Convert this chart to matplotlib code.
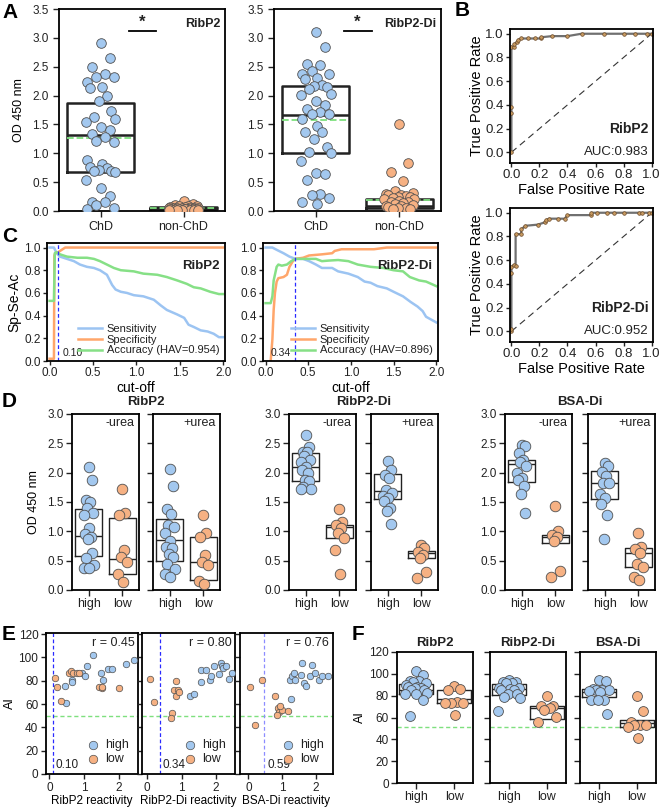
import numpy as np
import matplotlib.pyplot as plt
from matplotlib.lines import Line2D

plt.rcParams['font.family'] = ['Liberation Sans', 'DejaVu Sans']
plt.rcParams['axes.linewidth'] = 1.3
plt.rcParams['xtick.major.width'] = 1.0
plt.rcParams['ytick.major.width'] = 1.0
plt.rcParams['xtick.major.size'] = 3.5
plt.rcParams['ytick.major.size'] = 3.5
plt.rcParams['text.color'] = '#222222'
plt.rcParams['xtick.color'] = '#222222'
plt.rcParams['ytick.color'] = '#222222'

BLUE = '#a3c8ef'
ORANGE = '#f6b183'
EDGE = '#505050'
MEANC = '#7ee07e'
SENS_C = '#9cc4f2'
SPEC_C = '#ffa66b'
ACC_C = '#86e086'

# ---------------- data: panel A ----------------
groups_a = ['ChD', 'non-ChD']
a_ribp2_chd = [2.91, 2.65, 2.49, 2.37, 2.32, 2.32, 2.23, 2.14, 2.13, 2.00, 1.90, 1.74, 1.63,
               1.60, 1.54, 1.45, 1.41, 1.34, 1.28, 1.22, 1.19, 0.89, 0.82, 0.77, 0.74, 0.71,
               0.70, 0.69, 0.67, 0.53, 0.39, 0.26, 0.16, 0.16, 0.10, 0.06, 0.04]
a_ribp2_non = [0.18, 0.12, 0.10, 0.09, 0.08, 0.08, 0.07, 0.07, 0.06, 0.06, 0.06, 0.05, 0.05,
               0.05, 0.05, 0.04, 0.04, 0.04, 0.04, 0.03, 0.03, 0.03, 0.03, 0.02, 0.02, 0.02,
               0.02, 0.01, 0.01, 0.01]
a_ribp2di_chd = [3.10, 2.85, 2.55, 2.53, 2.43, 2.38, 2.38, 2.31, 2.29, 2.18, 2.16, 2.14, 2.12,
                 2.03, 2.01, 1.90, 1.83, 1.77, 1.71, 1.68, 1.68, 1.60, 1.48, 1.37, 1.37, 1.25,
                 1.11, 1.02, 1.00, 0.87, 0.66, 0.64, 0.54, 0.30, 0.27, 0.22, 0.15, 0.12]
a_ribp2di_non = [1.50, 0.83, 0.68, 0.52, 0.35, 0.32, 0.30, 0.28, 0.27, 0.26, 0.25, 0.24, 0.22,
                 0.21, 0.20, 0.18, 0.16, 0.15, 0.13, 0.12, 0.10, 0.09, 0.08, 0.07, 0.06, 0.05,
                 0.04, 0.03]
# box stats [ChD, non-ChD]
a1_q1, a1_med, a1_q3, a1_mean = [0.67, 0.03], [1.31, 0.05], [1.87, 0.07], [1.26, 0.06]
a2_q1, a2_med, a2_q3, a2_mean = [1.00, 0.06], [1.66, 0.09], [2.17, 0.21], [1.57, 0.19]

# ---------------- data: panel B (ROC) ----------------
roc1_fpr = [0, 0, 0, 0, 0.02, 0.02, 0.04, 0.05, 0.07, 0.12, 0.17, 0.21, 0.21, 0.29, 0.40,
            0.50, 0.66, 0.80, 0.88, 0.97, 1.0]
roc1_tpr = [0, 0.33, 0.38, 0.89, 0.89, 0.91, 0.93, 0.95, 0.96, 0.96, 0.96, 0.96, 0.97, 0.98,
            0.98, 1.0, 1.0, 1.0, 1.0, 1.0, 1.0]
roc2_fpr = [0, 0, 0, 0, 0.016, 0.03, 0.03, 0.07, 0.07, 0.10, 0.19, 0.24, 0.25, 0.27, 0.33,
            0.38, 0.40, 0.57, 0.57, 0.61, 0.68, 0.73, 0.80, 0.91, 0.93, 0.98, 1.0]
roc2_tpr = [0, 0.02, 0.49, 0.54, 0.56, 0.55, 0.82, 0.82, 0.86, 0.89, 0.90, 0.92, 0.94, 0.95,
            0.95, 0.95, 0.98, 0.98, 1.0, 1.0, 1.0, 1.0, 1.0, 1.0, 1.0, 1.0, 1.0]

# ---------------- data: panel C ----------------
c1_sens_x = [0, 0.05, 0.08, 0.12, 0.2, 0.28, 0.35, 0.43, 0.51, 0.58, 0.66, 0.72, 0.76, 0.82,
             0.89, 0.97, 1.08, 1.2, 1.28, 1.35, 1.47, 1.55, 1.6, 1.66, 1.74, 1.82, 1.89, 1.95, 2.0]
c1_sens_y = [1.0, 1.0, 0.95, 0.92, 0.90, 0.88, 0.85, 0.83, 0.82, 0.80, 0.76, 0.67, 0.63, 0.61,
             0.60, 0.58, 0.57, 0.54, 0.49, 0.45, 0.41, 0.38, 0.32, 0.30, 0.27, 0.26, 0.24, 0.21, 0.21]
c1_spec_x = [0, 0.05, 0.055, 0.065, 0.1, 0.14, 0.18, 2.0]
c1_spec_y = [0.02, 0.02, 0.93, 0.95, 0.96, 0.98, 1.0, 1.0]
c1_acc_x = [0, 0.05, 0.06, 0.08, 0.12, 0.2, 0.32, 0.43, 0.51, 0.58, 0.66, 0.74, 0.82, 0.97,
            1.08, 1.24, 1.35, 1.47, 1.58, 1.66, 1.74, 1.85, 1.95, 2.0]
c1_acc_y = [0.53, 0.53, 0.95, 0.96, 0.94, 0.92, 0.91, 0.91, 0.90, 0.88, 0.85, 0.82, 0.80, 0.79,
            0.77, 0.76, 0.74, 0.71, 0.68, 0.65, 0.64, 0.61, 0.59, 0.59]
c2_sens_x = [0, 0.08, 0.13, 0.21, 0.28, 0.35, 0.44, 0.51, 0.59, 0.66, 0.78, 0.85, 0.97, 1.08,
             1.16, 1.23, 1.31, 1.42, 1.50, 1.61, 1.70, 1.78, 1.84, 1.88, 2.0]
c2_sens_y = [1.0, 1.0, 0.98, 0.95, 0.92, 0.90, 0.90, 0.88, 0.85, 0.82, 0.82, 0.79, 0.77, 0.74,
             0.70, 0.69, 0.66, 0.64, 0.61, 0.57, 0.52, 0.48, 0.44, 0.39, 0.34]
c2_spec_x = [0.06, 0.08, 0.095, 0.11, 0.13, 0.15, 0.21, 0.25, 0.28, 0.32, 0.35, 0.44, 0.51,
             0.66, 0.78, 0.81, 0.89, 1.27, 1.42, 2.0]
c2_spec_y = [0.0, 0.19, 0.45, 0.60, 0.70, 0.73, 0.74, 0.76, 0.83, 0.88, 0.90, 0.91, 0.93,
             0.94, 0.95, 0.97, 0.985, 0.985, 1.0, 1.0]
c2_acc_x = [0, 0.06, 0.08, 0.095, 0.13, 0.15, 0.19, 0.25, 0.30, 0.35, 0.44, 0.59, 0.66, 0.74,
            0.85, 0.97, 1.08, 1.23, 1.38, 1.50, 1.61, 1.69, 1.80, 1.88, 2.0]
c2_acc_y = [0.51, 0.51, 0.57, 0.71, 0.83, 0.85, 0.84, 0.85, 0.88, 0.90, 0.90, 0.90, 0.88, 0.885,
            0.89, 0.88, 0.85, 0.83, 0.82, 0.80, 0.79, 0.74, 0.71, 0.70, 0.66]
c_cut = [0.10, 0.34]
c_hav = [0.954, 0.896]

# ---------------- data: panel D ----------------
d_names = ['RibP2', 'RibP2-Di', 'BSA-Di']
d_conds = ['-urea', '+urea']
d_high = [
    [[2.10, 1.88, 1.53, 1.50, 1.40, 1.32, 1.28, 1.06, 0.95, 0.90, 0.87, 0.63, 0.55, 0.42, 0.38, 0.37],
     [2.06, 1.77, 1.38, 1.30, 1.11, 1.07, 0.97, 0.84, 0.74, 0.71, 0.62, 0.56, 0.44, 0.36, 0.28, 0.23]],
    [[2.65, 2.44, 2.36, 2.36, 2.29, 2.22, 2.18, 2.09, 2.05, 2.00, 1.88, 1.85, 1.76, 1.73, 1.72],
     [2.20, 2.05, 1.96, 1.91, 1.70, 1.65, 1.61, 1.56, 1.51, 1.39, 1.34, 1.12]],
    [[2.48, 2.45, 2.34, 2.22, 2.18, 2.11, 1.99, 1.91, 1.88, 1.77, 1.64, 1.32],
     [2.17, 2.11, 2.01, 1.94, 1.83, 1.83, 1.63, 1.57, 1.46, 1.27, 0.87]],
]
d_low = [
    [[1.73, 1.31, 1.28, 0.68, 0.56, 0.47, 0.27, 0.14],
     [1.28, 0.97, 0.91, 0.60, 0.48, 0.43, 0.16, 0.11]],
    [[1.38, 1.16, 1.10, 1.05, 0.98, 0.88, 0.68, 0.27],
     [0.76, 0.71, 0.64, 0.60, 0.55, 0.30, 0.20]],
    [[1.43, 1.00, 0.94, 0.90, 0.83, 0.33, 0.22],
     [0.97, 0.74, 0.70, 0.63, 0.45, 0.40, 0.23, 0.17]],
]
# box stats as (q1, median, q3)
d_high_box = [[(0.58, 0.92, 1.38), (0.49, 0.85, 1.21)],
              [(1.85, 2.09, 2.33), (1.55, 1.69, 1.97)],
              [(1.84, 2.14, 2.21), (1.55, 1.83, 2.03)]]
d_low_box = [[(0.27, 0.53, 1.23), (0.17, 0.47, 0.91)],
             [(0.88, 1.08, 1.11), (0.55, 0.63, 0.66)],
             [(0.80, 0.91, 0.94), (0.40, 0.63, 0.71)]]

# ---------------- data: panel E ----------------
e_xlabels = ['RibP2 reactivity', 'RibP2-Di reactivity', 'BSA-Di reactivity']
e_r = ['r = 0.45', 'r = 0.80', 'r = 0.76']
e_cut_pos = [0.10, 0.36, 0.47]
e_cut_txt = ['0.10', '0.34', '0.59']
e_high_x = [
    [0.45, 0.48, 0.64, 0.64, 0.95, 1.03, 1.08, 1.24, 1.48, 1.55, 1.70, 1.79, 2.19, 2.43],
    [1.24, 1.37, 1.56, 1.56, 1.71, 1.83, 1.85, 1.93, 2.10, 2.15, 2.18, 2.20, 2.29, 2.39, 2.46],
    [1.27, 1.23, 1.29, 1.36, 1.39, 1.54, 1.59, 1.64, 1.71, 1.83, 1.88, 1.98, 2.08, 2.18, 2.35],
]
e_high_y = [
    [75.7, 60.9, 80.9, 78.6, 87.1, 84.3, 92.3, 102.3, 87.1, 80.9, 90.3, 90.3, 94.3, 98.0],
    [66.6, 68.9, 78.6, 88.9, 88.9, 80.9, 84.3, 92.3, 86.0, 95.1, 92.3, 90.9, 92.9, 81.7, 87.1],
    [64.3, 80.9, 84.3, 87.1, 80.9, 85.1, 95.1, 78.0, 75.7, 84.3, 93.7, 87.1, 80.9, 84.3, 84.3],
]
e_low_x = [
    [0.17, 0.22, 0.33, 0.55, 0.62, 0.67, 0.78, 0.84, 1.43, 1.50, 1.52, 2.00],
    [0.07, 0.20, 0.71, 0.68, 0.85, 0.78, 0.90, 0.83, 0.93],
    [0.05, 0.39, 0.78, 0.20, 0.88, 0.90, 0.85, 0.98, 1.18, 0.93],
]
e_low_y = [
    [82.3, 74.6, 62.9, 87.1, 88.6, 87.1, 86.6, 86.6, 74.3, 73.7, 74.6, 73.7],
    [81.7, 61.4, 52.3, 48.0, 80.0, 71.7, 71.7, 66.6, 70.0],
    [74.6, 80.3, 66.6, 42.3, 56.6, 52.9, 50.9, 55.1, 54.3, 58.0],
]

# ---------------- data: panel F ----------------
f_names = ['RibP2', 'RibP2-Di', 'BSA-Di']
f_high = [
    [103, 99, 93.7, 93.7, 92.2, 91.2, 89.7, 87.5, 87.5, 86.6, 86.6, 85.4, 85.4, 82.3, 81.3, 81.3, 76.1, 61.2],
    [94.7, 92.5, 92.5, 91.6, 91.6, 87.4, 87.4, 86.4, 85.5, 84.9, 81.2, 81.2, 78.8, 78.2, 66.0],
    [94.7, 93.4, 86.4, 85.5, 84.9, 84.9, 84.3, 83.4, 76.3, 76.3, 75.7, 63.5],
]
f_low = [
    [88.5, 86.4, 85.5, 74.2, 73.3, 73.3, 73.3, 62.0],
    [79.4, 70.2, 70.2, 69.0, 67.2, 60.5, 55.9],
    [79.4, 66.0, 55.9, 52.8, 52.8, 52.8, 51.3, 41.5],
]
f_high_box = [(81.3, 85.4, 90.6), (80.3, 86.4, 91.0), (78.8, 83.4, 86.4)]
f_low_box = [(73.3, 77.0, 85.5), (58.9, 69.0, 70.2), (51.3, 55.0, 58.0)]
f_cut = 51


def offsets(n, width):
    # deterministic side-to-side spread of overlapping points
    pattern = [0.0, 0.55, -0.5, 0.25, -0.25, 0.8, -0.8, 0.1, -0.65, 0.4, -0.1, 0.65, -0.4, 0.9, -0.9]
    return np.array([pattern[i % len(pattern)] * width for i in range(n)])


def swarm(ax, pos, vals, color, width, s, z=3):
    vals = np.array(sorted(vals, reverse=True))
    ax.scatter(pos + offsets(len(vals), width), vals, s=s, c=color, edgecolors=EDGE,
               linewidths=0.6, zorder=z)


def box(ax, pos, q1, med, q3, width, lw, mean=None):
    st = [{'med': med, 'q1': q1, 'q3': q3, 'whislo': q1, 'whishi': q3, 'mean': mean}]
    ax.bxp(st, positions=[pos], widths=width, showcaps=False, showfliers=False,
           showmeans=mean is not None, meanline=True, manage_ticks=False,
           boxprops=dict(color='#222222', lw=lw), medianprops=dict(color='#222222', lw=lw),
           whiskerprops=dict(lw=0), meanprops=dict(color=MEANC, ls='--', lw=1.3), zorder=2)


def fig_ax(x0, y0, x1, y1):
    W, H = 661.0, 810.0
    return fig.add_axes([x0 / W, 1 - y1 / H, (x1 - x0) / W, (y1 - y0) / H])


fig = plt.figure(figsize=(6.61, 8.10), dpi=100)

# ---------------- Panel A ----------------
a_sets = [(a_ribp2_chd, a_ribp2_non, a1_q1, a1_med, a1_q3, a1_mean, 'RibP2', (59, 225)),
          (a_ribp2di_chd, a_ribp2di_non, a2_q1, a2_med, a2_q3, a2_mean, 'RibP2-Di', (274, 441))]
for k, (chd, non, q1, med, q3, mn, name, (xl, xr)) in enumerate(a_sets):
    ax = fig_ax(xl, 9, xr, 211)
    for i in range(2):
        box(ax, i, q1[i], med[i], q3[i], 0.8, 1.8, mean=mn[i])
    swarm(ax, 0, chd, BLUE, 0.2, 48)
    swarm(ax, 1, non, ORANGE, 0.2, 48)
    ax.set_xlim(-0.5, 1.5)
    ax.set_ylim(0, 3.5)
    ax.set_yticks(np.arange(0, 3.51, 0.5))
    ax.set_yticklabels(['%.1f' % v for v in np.arange(0, 3.51, 0.5)], fontsize=8.5)
    ax.set_xticks([0, 1])
    ax.set_xticklabels(groups_a, fontsize=9)
    ax.tick_params(direction='out', length=4)
    ax.plot([0.34, 0.67], [3.12, 3.12], color='k', lw=1.3)
    ax.text(0.5, 3.14, '*', ha='center', va='bottom', fontsize=12, fontweight='bold')
    ax.text(0.97, 0.955, name, transform=ax.transAxes, ha='right', va='top',
            fontsize=9, fontweight='bold')
    if k == 0:
        ax.set_ylabel('OD 450 nm', fontsize=9, labelpad=5)

# ---------------- Panel B ----------------
for (fpr, tpr, name, auc, (y0, y1)) in [(roc1_fpr, roc1_tpr, 'RibP2', 'AUC:0.983', (29, 163)),
                                        (roc2_fpr, roc2_tpr, 'RibP2-Di', 'AUC:0.952', (208, 342))]:
    ax = fig_ax(510, y0, 653, y1)
    ax.plot([0, 1], [0, 1], color='#333333', ls=(0, (6, 4)), lw=0.8)
    ax.plot(fpr, tpr, color='#707070', lw=1.6, marker='o', ms=2.6, mfc='#c89a60',
            mec='#6a4a2a', mew=0.5)
    ax.set_xlim(-0.01, 1.01)
    ax.set_ylim(-0.09, 1.04)
    ticks = np.arange(0, 1.01, 0.2)
    ax.set_xticks(ticks)
    ax.set_yticks(ticks)
    ax.set_xticklabels(['%.1f' % v for v in ticks], fontsize=9.5)
    ax.set_yticklabels(['%.1f' % v for v in ticks], fontsize=9.5)
    ax.tick_params(direction='out', length=3, pad=1.5)
    ax.set_xlabel('False Positive Rate', fontsize=10.5, labelpad=1)
    ax.set_ylabel('True Positive Rate', fontsize=10.5, labelpad=1)
    ax.text(0.97, 0.2, name, transform=ax.transAxes, ha='right', va='bottom',
            fontsize=10, fontweight='bold')
    ax.text(0.97, 0.04, auc, transform=ax.transAxes, ha='right', va='bottom', fontsize=9.5)

# ---------------- Panel C ----------------
c_sets = [(c1_sens_x, c1_sens_y, c1_spec_x, c1_spec_y, c1_acc_x, c1_acc_y, 'RibP2', (47, 225)),
          (c2_sens_x, c2_sens_y, c2_spec_x, c2_spec_y, c2_acc_x, c2_acc_y, 'RibP2-Di', (263, 438))]
for k, (sx, sy, px, py, acx, acy, name, (xl, xr)) in enumerate(c_sets):
    ax = fig_ax(xl, 243, xr, 361)
    ax.plot(sx, sy, color=SENS_C, lw=1.8, label='Sensitivity')
    ax.plot(px, py, color=SPEC_C, lw=1.8, label='Specificity')
    ax.plot(acx, acy, color=ACC_C, lw=1.8, label='Accuracy (HAV=%.3f)' % c_hav[k])
    ax.axvline(c_cut[k], color='#2a2aff', ls=(0, (3, 2)), lw=0.9)
    if k == 0:
        ax.annotate('%.2f' % c_cut[k], (c_cut[k], 0.01), xytext=(3, 1), textcoords='offset points',
                    ha='left', va='bottom', fontsize=7.5)
    else:
        ax.annotate('%.2f' % c_cut[k], (c_cut[k], 0.01), xytext=(-3, 1), textcoords='offset points',
                    ha='right', va='bottom', fontsize=7.5)
    ax.set_xlim(-0.03, 2.02)
    ax.set_ylim(0, 1.04)
    ax.set_xticks(np.arange(0, 2.01, 0.5))
    ax.set_xticklabels(['%.1f' % v for v in np.arange(0, 2.01, 0.5)], fontsize=8.5)
    ax.set_yticks(np.arange(0, 1.01, 0.2))
    ax.set_yticklabels(['%.1f' % v for v in np.arange(0, 1.01, 0.2)], fontsize=8.5)
    ax.tick_params(direction='out', length=3, pad=1.5)
    ax.set_xlabel('cut-off', fontsize=10, labelpad=1)
    if k == 0:
        ax.set_ylabel('Sp-Se-Ac', fontsize=10, labelpad=2)
    ax.text(0.97, 0.86, name, transform=ax.transAxes, ha='right', va='top',
            fontsize=9.5, fontweight='bold')
    ax.legend(loc='lower right', frameon=False, fontsize=8, handlelength=2.2,
              handletextpad=0.4, labelspacing=0.05, borderaxespad=0.1)

# ---------------- Panel D ----------------
d_x = [(72, 139, 153, 220), (289, 356, 371, 438), (505, 572, 588, 655)]
for g in range(3):
    xs = d_x[g]
    for c in range(2):
        ax = fig_ax(xs[2 * c], 414, xs[2 * c + 1], 590)
        hq = d_high_box[g][c]
        lq = d_low_box[g][c]
        box(ax, 0, hq[0], hq[1], hq[2], 0.8, 1.0)
        box(ax, 1, lq[0], lq[1], lq[2], 0.8, 1.0)
        swarm(ax, 0, d_high[g][c], BLUE, 0.17, 58)
        swarm(ax, 1, d_low[g][c], ORANGE, 0.17, 58)
        ax.set_xlim(-0.5, 1.5)
        ax.set_ylim(0, 3.0)
        ax.set_yticks(np.arange(0, 3.01, 0.5))
        ax.set_xticks([0, 1])
        ax.set_xticklabels(['high', 'low'], fontsize=9)
        ax.tick_params(direction='out', length=4, pad=2)
        if c == 0:
            ax.set_yticklabels(['%.1f' % v for v in np.arange(0, 3.01, 0.5)], fontsize=8.5)
        else:
            ax.set_yticklabels([])
        ax.text(0.93, 0.985, d_conds[c], transform=ax.transAxes, ha='right', va='top', fontsize=9)
        if g == 0 and c == 0:
            ax.set_ylabel('OD 450 nm', fontsize=9, labelpad=5)
    fig.text((xs[0] + xs[3]) / 2 / 661.0, 1 - 402 / 810.0, d_names[g], ha='center', va='center',
             fontsize=9.5, fontweight='bold')

# ---------------- Panel E ----------------
e_x = [(46, 138), (142, 235), (240, 333)]
e_xlim = [(-0.1, 2.55), (-0.15, 2.55), (-0.25, 2.5)]
e_line_c = ['#2a2aff', '#2a2aff', '#8c8cff']
for k in range(3):
    ax = fig_ax(e_x[k][0], 633, e_x[k][1], 774)
    ax.axhline(50, color=MEANC, ls=(0, (3, 2)), lw=1.0, zorder=1)
    ax.axvline(e_cut_pos[k], color=e_line_c[k], ls=(0, (3, 2)), lw=0.9, zorder=1)
    ax.scatter(e_high_x[k], e_high_y[k], s=22, c=BLUE, edgecolors=EDGE, linewidths=0.5,
               zorder=3, label='high')
    ax.scatter(e_low_x[k], e_low_y[k], s=22, c=ORANGE, edgecolors=EDGE, linewidths=0.5,
               zorder=3, label='low')
    ax.set_xlim(*e_xlim[k])
    ax.set_ylim(0, 121)
    ax.set_yticks(np.arange(0, 121, 20))
    ax.set_xticks([0, 1, 2])
    ax.set_xticklabels(['0', '1', '2'], fontsize=8.5)
    ax.tick_params(direction='out', length=3.5, pad=2)
    if k == 0:
        ax.set_yticklabels([str(v) for v in range(0, 121, 20)], fontsize=8.5)
        ax.set_ylabel('AI', fontsize=9, labelpad=2)
    else:
        ax.set_yticklabels([])
    ax.set_xlabel(e_xlabels[k], fontsize=8.5, labelpad=1)
    ax.text(0.96, 0.97, e_r[k], transform=ax.transAxes, ha='right', va='top', fontsize=9)
    ax.annotate(e_cut_txt[k], (e_cut_pos[k], 0.01), xycoords=('data', 'axes fraction'),
                xytext=(2, 1), textcoords='offset points', ha='left', va='bottom', fontsize=8.5)
    ax.legend(loc='lower right', frameon=False, fontsize=9, handletextpad=0.0,
              labelspacing=0.15, borderaxespad=0.3, markerscale=1.3, borderpad=0.4)

# ---------------- Panel F ----------------
f_x = [(397, 473), (490, 566), (580, 656)]
for k in range(3):
    ax = fig_ax(f_x[k][0], 652, f_x[k][1], 783)
    ax.axhline(f_cut, color=MEANC, ls=(0, (3, 2)), lw=1.0, zorder=1)
    hq = f_high_box[k]
    lq = f_low_box[k]
    box(ax, 0, hq[0], hq[1], hq[2], 0.9, 1.0)
    box(ax, 1, lq[0], lq[1], lq[2], 0.9, 1.0)
    swarm(ax, 0, f_high[k], BLUE, 0.32, 50)
    swarm(ax, 1, f_low[k], ORANGE, 0.3, 50)
    ax.set_xlim(-0.5, 1.5)
    ax.set_ylim(0, 120)
    ax.set_yticks(np.arange(0, 121, 20))
    ax.set_xticks([0, 1])
    ax.set_xticklabels(['high', 'low'], fontsize=9)
    ax.tick_params(direction='out', length=4, pad=2)
    if k == 0:
        ax.set_yticklabels([str(v) for v in range(0, 121, 20)], fontsize=8.5)
        ax.set_ylabel('AI', fontsize=9, labelpad=2)
    else:
        ax.set_yticklabels([])
    ax.set_title(f_names[k], fontsize=9.5, fontweight='bold', pad=4)

# ---------------- panel letters ----------------
for lab, x, y in [('A', 2, 13), ('B', 455, 11), ('C', 2, 237), ('D', 2, 402),
                  ('E', 2, 634), ('F', 352, 634)]:
    fig.text(x / 661.0, 1 - y / 810.0, lab, ha='left', va='center', fontsize=15,
             fontweight='bold', color='black')

fig.savefig('out.png', dpi=100)
